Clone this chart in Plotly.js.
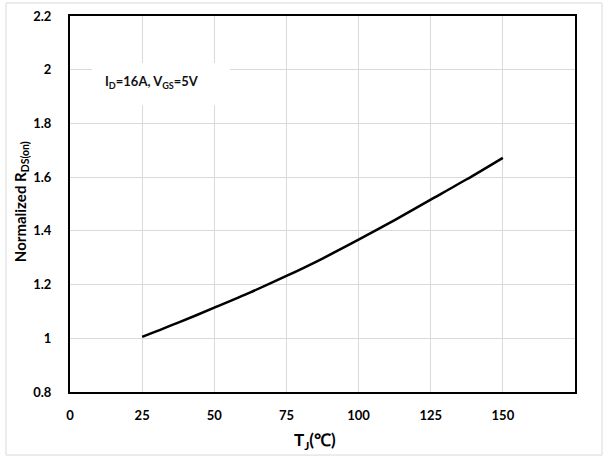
<!DOCTYPE html>
<html>
<head>
<meta charset="utf-8">
<script src="https://cdn.plot.ly/plotly-3.0.1.min.js"></script>
<style>
  html, body { margin: 0; padding: 0; background: #ffffff; }
  #chart { width: 608px; height: 457px; }
</style>
</head>
<body>
<div id="chart"></div>
<script>
// Junction temperature (°C) and normalized on-resistance
const tempC = [25, 37.5, 50, 62.5, 75, 87.5, 100, 112.5, 125, 137.5, 150];
const rdsNorm = [1.005, 1.058, 1.114, 1.171, 1.232, 1.297, 1.367, 1.440, 1.516, 1.592, 1.672];

const xTicks = [0, 25, 50, 75, 100, 125, 150];
const yTicks = [0.8, 1, 1.2, 1.4, 1.6, 1.8, 2, 2.2];
const yTickText = ['0.8', '1', '1.2', '1.4', '1.6', '1.8', '2', '2.2'];

const xTitle = 'T<sub>J</sub>(℃)';
const yTitle = 'Normalized R<sub>DS(on)</sub>';
const conditionText = 'I<sub>D</sub>=16A, V<sub>GS</sub>=5V';

const FONT = 'Lato, "Open Sans", Arial, sans-serif';
const NARROW = '"Liberation Sans Narrow", Lato, Arial, sans-serif';

const trace = {
  x: tempC,
  y: rdsNorm,
  type: 'scatter',
  mode: 'lines',
  line: { color: '#000000', width: 2.5, shape: 'spline', smoothing: 0.8 },
  hoverinfo: 'skip',
  showlegend: false
};

const axisCommon = {
  showgrid: true,
  gridcolor: '#d9d9d9',
  gridwidth: 1,
  zeroline: false,
  showline: true,
  linecolor: '#000000',
  linewidth: 2,
  mirror: true,
  ticks: '',
  tickfont: { family: FONT, size: 13, color: '#000000', weight: 'bold' },
  fixedrange: true
};

const layout = {
  width: 608,
  height: 457,
  margin: { l: 70, r: 33, t: 16, b: 65 },
  paper_bgcolor: '#ffffff',
  plot_bgcolor: '#ffffff',
  font: { family: FONT, color: '#000000' },
  xaxis: Object.assign({}, axisCommon, {
    range: [0, 175],
    tickvals: xTicks,
    ticktext: xTicks.map(String),
    ticklabelstandoff: 10
  }),
  yaxis: Object.assign({}, axisCommon, {
    range: [0.8, 2.2],
    tickvals: yTicks,
    ticktext: yTickText,
    ticklabelstandoff: 14
  }),
  shapes: [
    // white label box over the gridlines
    {
      type: 'rect', xref: 'x', yref: 'y',
      x0: 7.6, x1: 55.4, y0: 1.868, y1: 2.025,
      fillcolor: '#ffffff', line: { width: 0 }, layer: 'above'
    },
    // light frame around the whole figure
    {
      type: 'rect', xref: 'paper', yref: 'paper',
      x0: -0.1267, x1: 1.0535, y0: -0.1676, y1: 1.0346,
      fillcolor: 'rgba(0,0,0,0)', line: { color: '#d9d9d9', width: 1 }, layer: 'below'
    }
  ],
  annotations: [
    {
      xref: 'x', yref: 'y', x: 11.5, y: 1.954,
      xanchor: 'left', yanchor: 'middle',
      text: conditionText, showarrow: false,
      font: { family: NARROW, size: 13, color: '#111111', weight: 700 }
    },
    // axis titles
    {
      xref: 'paper', yref: 'paper', x: 0.485, y: -0.130,
      xanchor: 'center', yanchor: 'middle',
      text: xTitle, showarrow: false,
      font: { family: NARROW, size: 17, color: '#000000', weight: 700 }
    },
    {
      xref: 'paper', yref: 'paper', x: -0.097, y: 0.505,
      xanchor: 'center', yanchor: 'middle', textangle: -90,
      text: yTitle, showarrow: false,
      font: { family: NARROW, size: 15, color: '#000000', weight: 700 }
    }
  ]
};

Plotly.newPlot('chart', [trace], layout, { displayModeBar: false, staticPlot: true });
</script>
</body>
</html>
